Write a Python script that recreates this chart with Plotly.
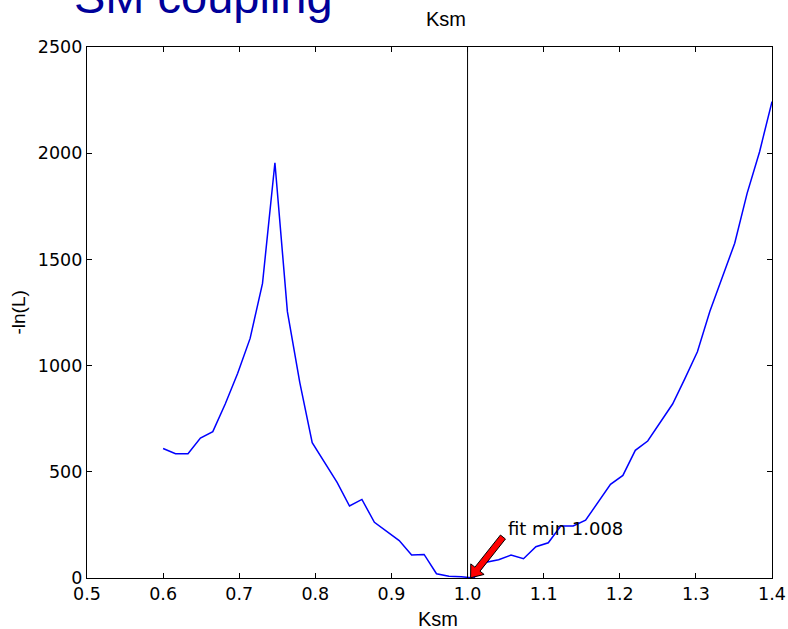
import math
import plotly.graph_objects as go

# Data
ksm = [0.6000, 0.6163, 0.6327, 0.6490, 0.6653, 0.6816, 0.6980, 0.7143, 0.7306, 0.7469,
       0.7633, 0.7796, 0.7959, 0.8122, 0.8286, 0.8449, 0.8612, 0.8776, 0.8939, 0.9102,
       0.9265, 0.9429, 0.9592, 0.9755, 0.9918, 1.0082, 1.0245, 1.0408, 1.0571, 1.0735,
       1.0898, 1.1061, 1.1224, 1.1388, 1.1551, 1.1714, 1.1878, 1.2041, 1.2204, 1.2367,
       1.2531, 1.2694, 1.2857, 1.3020, 1.3184, 1.3347, 1.3510, 1.3673, 1.3837, 1.4000]
neg_lnL = [610, 585, 585, 659, 689, 819, 964, 1128, 1387, 1955,
           1254, 920, 637, 545, 450, 339, 370, 262, 220, 176,
           108, 111, 20, 8, 6, 0, 74, 86, 108, 91,
           147, 166, 245, 245, 272, 356, 441, 483, 601, 645,
           731, 819, 940, 1065, 1256, 1420, 1576, 1811, 2007, 2243]
x_ticks = [0.5, 0.6, 0.7, 0.8, 0.9, 1.0, 1.1, 1.2, 1.3, 1.4]
y_ticks = [0, 500, 1000, 1500, 2000, 2500]
x_range = [0.5, 1.4]
y_range = [0, 2500]
ref_ksm = 1.0
fit_label = "fit min 1.008"
arrow_tip = (1.004, 1)
arrow_tail = (1.0465, 193)
label_pos = (1.0502, 231)

W, H = 788, 629
M = dict(l=87, r=16, t=47, b=51)
plot_w = W - M["l"] - M["r"]
plot_h = H - M["t"] - M["b"]
px_per_x = plot_w / (x_range[1] - x_range[0])
px_per_y = plot_h / (y_range[1] - y_range[0])

# fat arrow polygon (matplotlib "fancy" arrow look), built in pixel space around the tip
dxp = (arrow_tail[0] - arrow_tip[0]) * px_per_x
dyp = -(arrow_tail[1] - arrow_tip[1]) * px_per_y
L = math.hypot(dxp, dyp)
ux, uy = -dxp / L, -dyp / L          # direction tail -> tip (pixels, y down)
nx, ny = -uy, ux
hl, hw, sw = 11, 8.5, 3.2


def to_data(px, py):
    return (arrow_tip[0] + px / px_per_x, arrow_tip[1] - py / px_per_y)


pts_px = [
    (0, 0),
    (-hl * ux + hw * nx, -hl * uy + hw * ny),
    (-hl * ux + sw * nx, -hl * uy + sw * ny),
    (-L * ux + sw * nx, -L * uy + sw * ny),
    (-L * ux - sw * nx, -L * uy - sw * ny),
    (-hl * ux - sw * nx, -hl * uy - sw * ny),
    (-hl * ux - hw * nx, -hl * uy - hw * ny),
]
pts = [to_data(*p) for p in pts_px]
path = "M " + " L ".join(f"{x:.6f},{y:.4f}" for x, y in pts) + " Z"

fig = go.Figure()
fig.add_trace(go.Scatter(x=ksm, y=neg_lnL, mode="lines",
                         line=dict(color="#0000ff", width=1.5), showlegend=False,
                         hoverinfo="skip"))

fig.add_vline(x=ref_ksm, line=dict(color="black", width=1))
fig.add_shape(type="path", path=path, xref="x", yref="y", fillcolor="#ff0000",
              line=dict(color="black", width=1), layer="above")

axis_common = dict(showline=True, linecolor="black", linewidth=1.2, mirror="ticks",
                   ticks="inside", ticklen=5, tickwidth=1, tickcolor="black",
                   showgrid=False, zeroline=False, automargin=False,
                   tickfont=dict(family="DejaVu Sans", size=17.5, color="black"))

fig.update_xaxes(range=x_range, tickvals=x_ticks, ticktext=[f"{v:.1f}" for v in x_ticks],
                 **axis_common)
fig.update_yaxes(range=y_range, tickvals=y_ticks, ticktext=[str(v) for v in y_ticks],
                 **axis_common)

ann = []
ann.append(dict(x=label_pos[0], y=label_pos[1], xref="x", yref="y", text=fit_label,
                showarrow=False, xanchor="left", yanchor="middle",
                font=dict(family="DejaVu Sans", size=18, color="black")))
# plot title
ann.append(dict(x=0.524, y=1, xref="paper", yref="paper", yshift=28, text="Ksm",
                showarrow=False, xanchor="center", yanchor="middle",
                font=dict(family="Liberation Sans", size=20, color="black")))
# x-axis title
ann.append(dict(x=0.5124, y=0, xref="paper", yref="paper", yshift=-41, text="Ksm",
                showarrow=False, xanchor="center", yanchor="middle",
                font=dict(family="Liberation Sans", size=20, color="black")))
# y-axis title
ann.append(dict(x=0, y=0.5, xref="paper", yref="paper", xshift=-69, text="-ln(L)",
                showarrow=False, xanchor="center", yanchor="middle", textangle=-90,
                font=dict(family="Liberation Sans", size=19, color="black")))
# slide title (cut off at top)
ann.append(dict(x=0, y=1, xref="paper", yref="paper", xshift=-15, yshift=51,
                text="SM coupling", showarrow=False, xanchor="left", yanchor="middle",
                font=dict(family="Liberation Sans", size=47, color="#000099")))

fig.update_layout(width=W, height=H, margin=M,
                  paper_bgcolor="white", plot_bgcolor="white", annotations=ann)

fig.write_html("out.html")
